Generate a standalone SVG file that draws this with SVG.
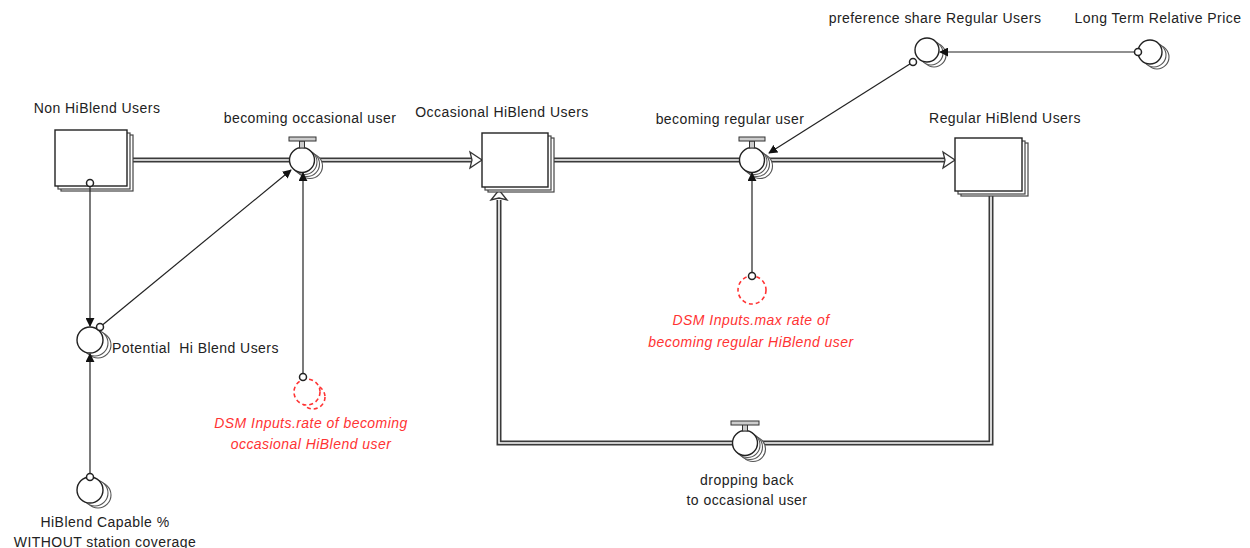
<svg xmlns="http://www.w3.org/2000/svg" width="1250" height="548" viewBox="0 0 1250 548">
<defs>
<style>
text{font-family:"Liberation Sans",Arial,sans-serif;font-size:14px;letter-spacing:0.45px;fill:#222;}
.red{fill:#f33;font-style:italic;}
.mid{text-anchor:middle;}
.pipeo{fill:none;stroke:#3a3a3a;stroke-width:5;}
.pipei{fill:none;stroke:#fff;stroke-width:1.6;}
.stk{fill:#fff;stroke:#222;stroke-width:1.4;}
.shd{fill:#fff;stroke:#444;stroke-width:1.2;}
.vc{fill:#fff;stroke:#222;stroke-width:1.4;}
.vs{fill:#fff;stroke:#555;stroke-width:1.1;}
.bar{fill:#ccc;stroke:#333;stroke-width:1;}
.conn{fill:none;stroke:#222;stroke-width:1.2;}
.dot{fill:#fff;stroke:#222;stroke-width:1.5;}
.hol{fill:#fff;stroke:#333;stroke-width:1.3;}
.dash{fill:#fff;stroke:#f33;stroke-width:1.6;stroke-dasharray:4 3;}
</style>
<marker id="ah" viewBox="0 0 10 10" refX="9" refY="5" markerWidth="9" markerHeight="9" markerUnits="userSpaceOnUse" orient="auto">
<path d="M0,0 L10,5 L0,10 Z" fill="#111"/>
</marker>
</defs>

<!-- flows (pipes) -->
<g id="flows">
<polyline class="pipeo" points="128,160 472,160"/>
<polyline class="pipei" points="128,160 472,160"/>
<polygon class="hol" points="470,152 482,160 470,168 472,160"/>
<polyline class="pipeo" points="553,160 945,160"/>
<polyline class="pipei" points="553,160 945,160"/>
<polygon class="hol" points="943,152 955,160 943,168 945,160"/>
<polyline class="pipeo" points="991,193 991,443 499,443 499,200"/>
<polyline class="pipei" points="991,193 991,443 499,443 499,200"/>
<polygon class="hol" points="491,200 499,190 507,200 499,198"/>
</g>

<!-- stocks -->
<g id="non-hiblend-users">
<rect class="shd" x="61" y="135" width="72" height="56"/>
<rect class="shd" x="58" y="133" width="72" height="56"/>
<rect class="stk" x="55" y="130" width="72" height="56"/>
<text class="mid" x="97" y="113">Non HiBlend Users</text>
</g>
<g id="occasional-hiblend-users">
<rect class="shd" x="488" y="138" width="66" height="54"/>
<rect class="shd" x="485" y="136" width="66" height="54"/>
<rect class="stk" x="482" y="133" width="66" height="54"/>
<text class="mid" x="502" y="117">Occasional HiBlend Users</text>
</g>
<g id="regular-hiblend-users">
<rect class="shd" x="961" y="143" width="67" height="53"/>
<rect class="shd" x="958" y="141" width="67" height="53"/>
<rect class="stk" x="955" y="138" width="67" height="53"/>
<text class="mid" x="1005" y="123">Regular HiBlend Users</text>
</g>

<!-- valves -->
<g id="becoming-occasional-user">
<circle class="vs" cx="310" cy="166" r="12.5"/>
<circle class="vs" cx="307" cy="164" r="12.5"/>
<circle class="vs" cx="304.5" cy="162" r="12.5"/>
<circle class="vc" cx="302" cy="160" r="12.5"/>
<rect class="bar" x="299.5" y="141" width="5" height="7"/>
<rect class="bar" x="289" y="137" width="27" height="4"/>
<text class="mid" x="310" y="123">becoming occasional user</text>
</g>
<g id="becoming-regular-user">
<circle class="vs" cx="760" cy="166" r="12.5"/>
<circle class="vs" cx="757" cy="164" r="12.5"/>
<circle class="vs" cx="754.5" cy="162" r="12.5"/>
<circle class="vc" cx="752" cy="160" r="12.5"/>
<rect class="bar" x="749.5" y="141" width="5" height="7"/>
<rect class="bar" x="739" y="137" width="26" height="4"/>
<text class="mid" x="730" y="124">becoming regular user</text>
</g>
<g id="dropping-back">
<circle class="vs" cx="753" cy="449" r="12.5"/>
<circle class="vs" cx="750" cy="447" r="12.5"/>
<circle class="vs" cx="747.5" cy="445" r="12.5"/>
<circle class="vc" cx="745" cy="443" r="12.5"/>
<rect class="bar" x="742.5" y="424" width="5" height="7"/>
<rect class="bar" x="731" y="421" width="28" height="4"/>
<text class="mid" x="747" y="485">dropping back</text>
<text class="mid" x="747" y="505">to occasional user</text>
</g>

<!-- auxiliaries -->
<g id="preference-share-regular-users">
<circle class="vs" cx="934" cy="55" r="12"/>
<circle class="vs" cx="931" cy="53" r="12"/>
<circle class="vc" cx="927" cy="50" r="12"/>
<text class="mid" x="935" y="23">preference share Regular Users</text>
</g>
<g id="long-term-relative-price">
<circle class="vs" cx="1157" cy="57" r="12"/>
<circle class="vs" cx="1154" cy="55" r="12"/>
<circle class="vc" cx="1150" cy="52" r="12"/>
<text class="mid" x="1158" y="23">Long Term Relative Price</text>
</g>
<g id="potential-hi-blend-users">
<circle class="vs" cx="98" cy="345" r="13"/>
<circle class="vs" cx="95" cy="343" r="13"/>
<circle class="vc" cx="90" cy="340" r="13"/>
<text x="112" y="353" xml:space="preserve">Potential  Hi Blend Users</text>
</g>
<g id="hiblend-capable">
<circle class="vs" cx="98" cy="495" r="13"/>
<circle class="vs" cx="95" cy="493" r="13"/>
<circle class="vc" cx="90" cy="490" r="13"/>
<text class="mid" x="105" y="527">HiBlend Capable %</text>
<text class="mid" x="105" y="547">WITHOUT station coverage</text>
</g>
<g id="dsm-rate-occasional">
<circle class="dash" cx="313" cy="397" r="12"/>
<circle class="dash" cx="307" cy="392" r="13"/>
<text class="red mid" x="311" y="428">DSM Inputs.rate of becoming</text>
<text class="red mid" x="311" y="449">occasional HiBlend user</text>
</g>
<g id="dsm-max-rate-regular">
<circle class="dash" cx="752" cy="290" r="14"/>
<text class="red mid" x="751" y="325">DSM Inputs.max rate of</text>
<text class="red mid" x="751" y="347">becoming regular HiBlend user</text>
</g>

<!-- connectors -->
<g id="connectors">
<line class="conn" x1="90" y1="186" x2="90" y2="326" marker-end="url(#ah)"/>
<circle class="dot" cx="90" cy="183" r="3.5"/>
<line class="conn" x1="100" y1="327" x2="291" y2="170" marker-end="url(#ah)"/>
<circle class="dot" cx="100" cy="327" r="3.5"/>
<line class="conn" x1="90" y1="475" x2="90" y2="354" marker-end="url(#ah)"/>
<circle class="dot" cx="90" cy="477" r="3.5"/>
<line class="conn" x1="303" y1="374" x2="303" y2="173" marker-end="url(#ah)"/>
<circle class="dot" cx="303" cy="377" r="3.5"/>
<line class="conn" x1="752" y1="273" x2="752" y2="173" marker-end="url(#ah)"/>
<circle class="dot" cx="752" cy="276" r="3.5"/>
<line class="conn" x1="1135" y1="52" x2="940" y2="52" marker-end="url(#ah)"/>
<circle class="dot" cx="1138" cy="52" r="3.5"/>
<line class="conn" x1="913" y1="62" x2="769" y2="153" marker-end="url(#ah)"/>
<circle class="dot" cx="913" cy="62" r="3.5"/>
</g>
</svg>
